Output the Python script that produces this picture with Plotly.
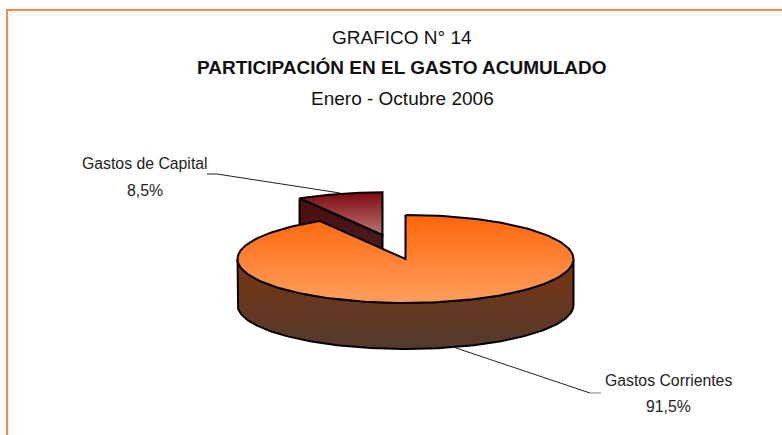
import numpy as np
import plotly.graph_objects as go

# values
categories = ["Gastos Corrientes", "Gastos de Capital"]
shares = [91.5, 8.5]
share_labels = ["91,5%", "8,5%"]
title_lines = ["GRAFICO N° 14", "<b>PARTICIPACIÓN EN EL GASTO ACUMULADO</b>", "Enero - Octubre 2006"]

FONT = "Liberation Sans, Arial"
FRAME = "#F58A4B"

# the pie, in page pixels
CX, CY = 405.5, 259
RX, RY = 168, 44
DEPTH = 46
EXPLODE = (-23, -24)


def rim(start, end, dx=0, dy=0, scale=1):
    """Points of the ellipse, angles clockwise from 12 o'clock, in percent of the pie"""
    t = np.radians(np.linspace(start, end, 181) * 3.6)
    return CX + dx + scale * RX * np.sin(t), CY + dy - scale * RY * np.cos(t)


def add_face(fig, x, y, colors, y0, y1, line_width=2):
    fig.add_trace(go.Scatter(
        x=list(x) + [x[0]], y=list(y) + [y[0]],
        mode="lines", fill="toself",
        line=dict(color="black", width=line_width),
        fillgradient=dict(type="vertical", start=y0, stop=y1,
                          colorscale=[[0, colors[0]], [1, colors[1]]]),
        hoverinfo="skip", showlegend=False))


def add_leader(fig, x, y, color="#222222"):
    fig.add_trace(go.Scatter(x=x, y=y, mode="lines", line=dict(color=color, width=1),
                             hoverinfo="skip", showlegend=False))


fig = go.Figure()

main_share, small_share = shares
dx, dy = EXPLODE

# exploded slice: cut face first, then the top
ex, ey = rim(main_share, main_share, dx, dy, 0.97)
ax, ay = CX + dx, CY + dy
add_face(fig, [ex[0], ax, ax, ex[0]], [ey[0], ay, ay + DEPTH, ey[0] + DEPTH],
         ("#4A0C0C", "#44282A"), ey[0], ay + DEPTH)
sx, sy = rim(main_share, 100, dx, dy, 0.97)
add_face(fig, list(sx) + [ax], list(sy) + [ay], ("#7C0A10", "#BC7474"), sy.min(), ay)

# large slice: front wall, then the top
fx, fy = rim(25, 75)
add_face(fig, list(fx) + list(fx[::-1]), list(fy) + list(fy[::-1] + DEPTH),
         ("#7C3410", "#523A2E"), CY, CY + RY + DEPTH)
mx, my = rim(0, main_share)
add_face(fig, list(mx) + [CX], list(my) + [CY], ("#FF660A", "#FF9E5E"), CY - RY, CY + RY)

add_leader(fig, [207, 217, 340], [174, 174, 193])
add_leader(fig, [453, 590], [347, 393])
add_leader(fig, [590, 601], [393, 393], "#808080")

# frame of the picture
fig.add_trace(go.Scatter(x=[7, 7, 782], y=[435, 10, 10], mode="lines",
                         line=dict(color=FRAME, width=2), hoverinfo="skip", showlegend=False))

for text, y in zip(title_lines, [37, 67, 98]):
    fig.add_annotation(x=402, y=y, text=text, showarrow=False, xanchor="center", yanchor="middle",
                       font=dict(family=FONT, size=19, color="#111111"))

label_pos = [(668, 380, 406), (144.5, 163, 190)]
for name, label, (x, y0, y1) in zip(categories, share_labels, label_pos):
    fig.add_annotation(x=x, y=y0, text=name, showarrow=False,
                       font=dict(family=FONT, size=15.8, color="#222222"))
    fig.add_annotation(x=x, y=y1, text=label, showarrow=False,
                       font=dict(family=FONT, size=15.8, color="#222222"))

fig.update_layout(
    width=782, height=435,
    margin=dict(l=0, r=0, t=0, b=0),
    paper_bgcolor="white", plot_bgcolor="white",
    xaxis=dict(range=[0, 782], visible=False, fixedrange=True),
    yaxis=dict(range=[435, 0], visible=False, fixedrange=True),
)

# the page's default body margin would push the figure off the window
fig.write_html("out.html", post_script="document.body.style.margin = '0';",
               config=dict(displayModeBar=False))
